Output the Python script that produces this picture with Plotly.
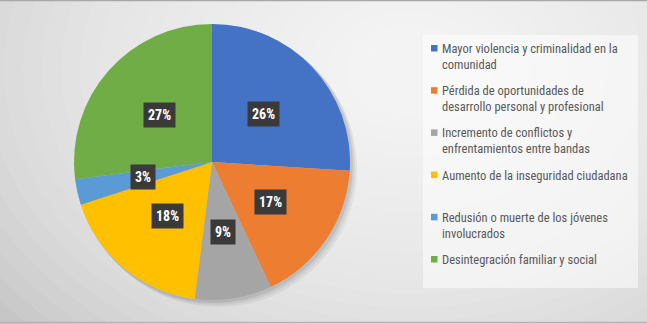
import textwrap
import math
import plotly.graph_objects as go

# ---- data ----
categories = [
    "Mayor violencia y criminalidad en la comunidad",
    "Pérdida de oportunidades de desarrollo personal y profesional",
    "Incremento de conflictos y enfrentamientos entre bandas",
    "Aumento de la inseguridad ciudadana",
    "Redusión o muerte de los jóvenes involucrados",
    "Desintegración familiar y social",
]
values = [26, 17, 9, 18, 3, 27]
colors = ["#4472C4", "#ED7D31", "#A5A5A5", "#FFC000", "#5B9BD5", "#70AD47"]

W, H = 647, 324
FONT = "Liberation Sans Narrow, Roboto Condensed, Arial Narrow, Roboto, sans-serif"

# pie placement (pixels)
cx, cy, R = 212, 162, 138

fig = go.Figure()

fig.add_trace(go.Pie(
    labels=categories,
    values=values,
    sort=False,
    direction="clockwise",
    rotation=0,
    marker=dict(colors=colors, line=dict(width=0)),
    textinfo="none",
    showlegend=False,
    domain=dict(x=[(cx - R) / W, (cx + R) / W], y=[1 - (cy + R) / H, 1 - (cy - R) / H]),
    hovertemplate="%{label}: %{percent}<extra></extra>",
))

shapes = []
# background radial gradient approximation
bx, by = 410, 70
n_layers = 26
for k in range(n_layers):
    rx = 520 - k * 19
    ry = rx * 0.72
    shapes.append(dict(type="circle", xref="paper", yref="paper",
                       x0=(bx - rx) / W, x1=(bx + rx) / W,
                       y0=1 - (by + ry) / H, y1=1 - (by - ry) / H,
                       fillcolor="white", opacity=0.075, line=dict(width=0), layer="below"))
# soft shadow behind pie
for k, (off, op) in enumerate([(6, 0.05), (4, 0.06), (2, 0.08)]):
    shapes.append(dict(type="circle", xref="paper", yref="paper",
                       x0=(cx - R + off - 1) / W, x1=(cx + R + off + 1) / W,
                       y0=1 - (cy + R + off + 1) / H, y1=1 - (cy - R + off - 1) / H,
                       fillcolor="black", opacity=op, line=dict(width=0), layer="below"))
# top / bottom frame lines
shapes.append(dict(type="line", xref="paper", yref="paper", x0=0, x1=1,
                   y0=1 - 0.5 / H, y1=1 - 0.5 / H, line=dict(color="#a8a8a8", width=1.5)))
shapes.append(dict(type="line", xref="paper", yref="paper", x0=0, x1=1,
                   y0=1 - 322.5 / H, y1=1 - 322.5 / H, line=dict(color="#b4b4b4", width=1.5)))

# legend box
lx0, lx1, ly0, ly1 = 423, 638, 35, 288
shapes.append(dict(type="rect", xref="paper", yref="paper",
                   x0=lx0 / W, x1=lx1 / W, y0=1 - ly1 / H, y1=1 - ly0 / H,
                   fillcolor="rgba(255,255,255,0.5)", line=dict(width=0)))

annotations = []
# percentage labels in dark boxes, placed at slice mid-angles
total = sum(values)
cum = 0
for v in values:
    mid = (cum + v / 2) / total * 2 * math.pi
    cum += v
    r = 0.51 * R
    px = cx + r * math.sin(mid)
    py = cy - r * math.cos(mid)
    annotations.append(dict(
        x=px / W, y=1 - py / H, xref="paper", yref="paper", showarrow=False,
        text="<b>%d%%</b>" % round(v / total * 100),
        font=dict(family=FONT, size=14, color="white"),
        bgcolor="#3a3a3a", borderpad=4, xanchor="center", yanchor="middle",
    ))

# custom legend
item_y0, item_step, line_h = 48, 42.2, 16
for i, (lab, col) in enumerate(zip(categories, colors)):
    yc = item_y0 + i * item_step
    shapes.append(dict(type="rect", xref="paper", yref="paper",
                       x0=431 / W, x1=437.5 / W, y0=1 - (yc + 3.5) / H, y1=1 - (yc - 3) / H,
                       fillcolor=col, line=dict(width=0)))
    text = "<br>".join(textwrap.wrap(lab, 36))
    annotations.append(dict(
        x=440 / W, y=1 - (yc - line_h / 2 - 1) / H, xref="paper", yref="paper",
        showarrow=False, text=text, align="left", xanchor="left", yanchor="top",
        font=dict(family=FONT, size=12.5, color="#595959"), borderpad=1,
    ))

fig.update_layout(
    width=W, height=H,
    margin=dict(l=0, r=0, t=0, b=0),
    paper_bgcolor="#c6c6c6",
    plot_bgcolor="rgba(0,0,0,0)",
    shapes=shapes,
    annotations=annotations,
    showlegend=False,
)

fig.write_html("out.html")
